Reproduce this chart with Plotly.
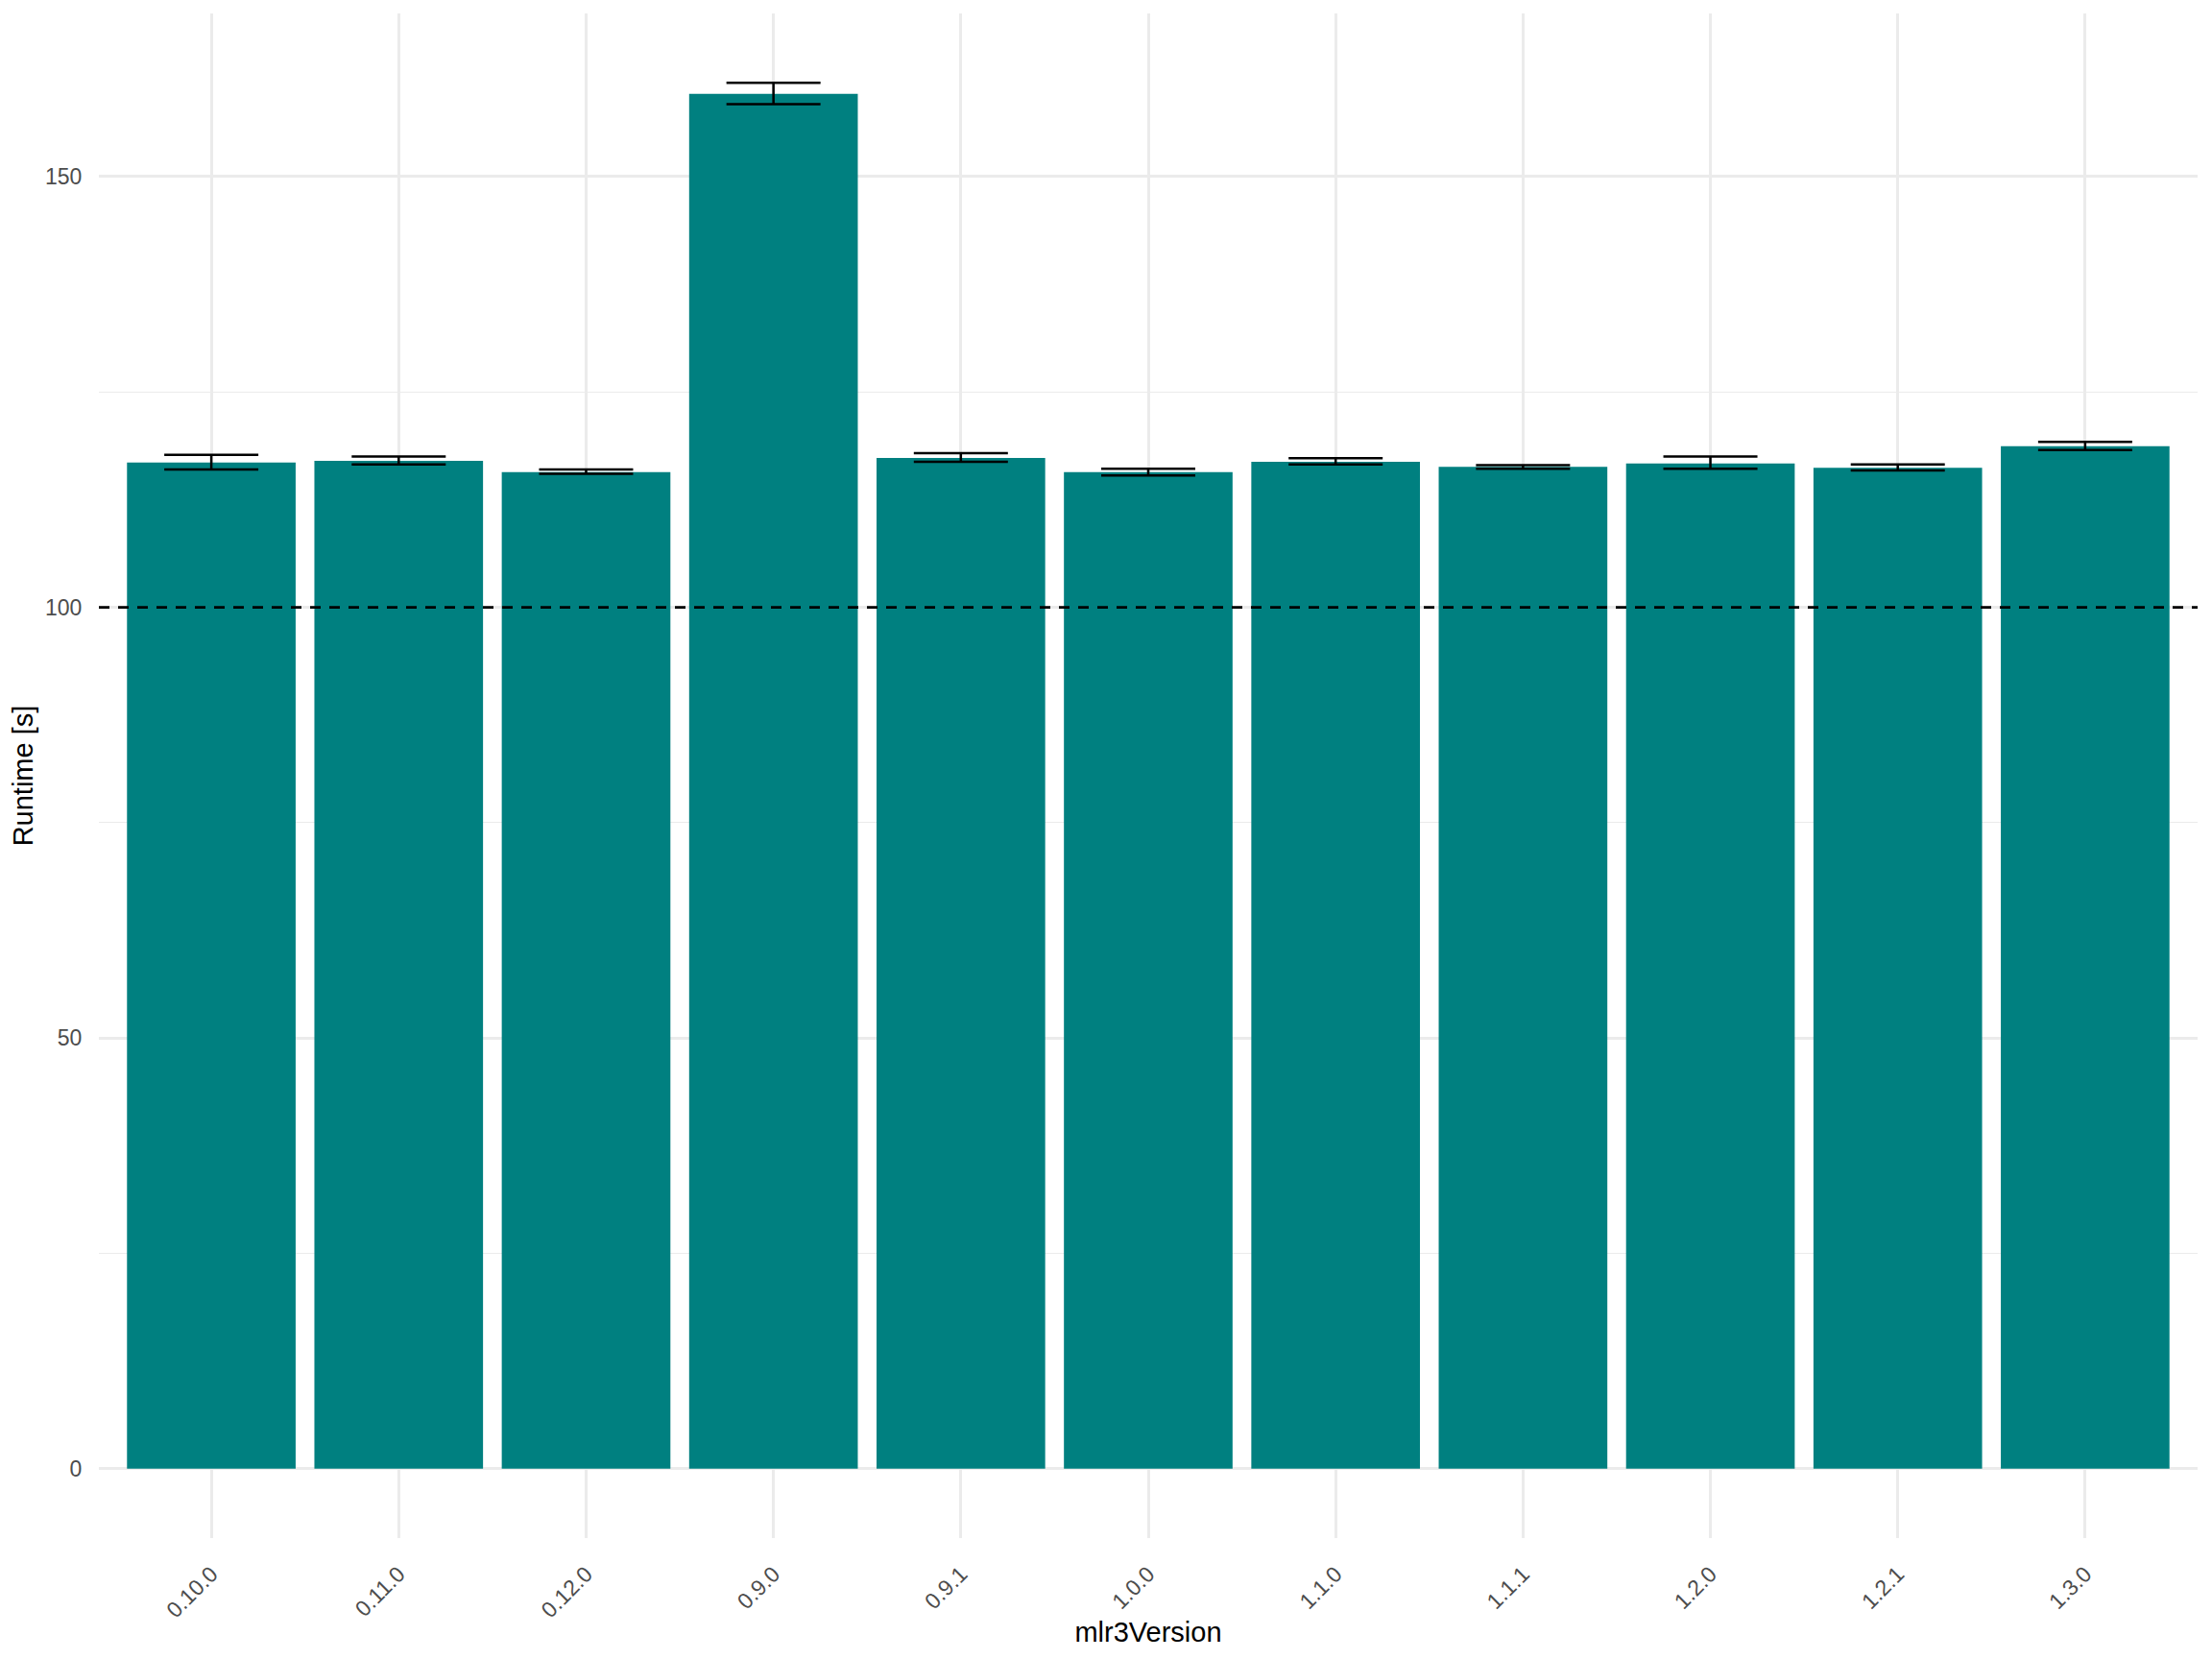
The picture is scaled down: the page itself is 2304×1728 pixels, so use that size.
import plotly.graph_objects as go

versions = ["0.10.0", "0.11.0", "0.12.0", "0.9.0", "0.9.1", "1.0.0",
            "1.1.0", "1.1.1", "1.2.0", "1.2.1", "1.3.0"]
runtime = [116.8, 117.0, 115.7, 159.6, 117.35, 115.7, 116.9, 116.3, 116.7, 116.2, 118.7]
err_upper = [117.7, 117.5, 116.0, 160.9, 117.9, 116.1, 117.3, 116.5, 117.5, 116.6, 119.2]
err_lower = [116.0, 116.6, 115.5, 158.4, 116.9, 115.3, 116.6, 116.1, 116.1, 115.9, 118.25]
reference_line = 100

plus = [u - r for u, r in zip(err_upper, runtime)]
minus = [r - l for l, r in zip(err_lower, runtime)]

FONT = "Liberation Sans"

fig = go.Figure()
fig.add_trace(go.Bar(
    x=versions, y=runtime,
    marker=dict(color="#008080", line=dict(width=0)),
    error_y=dict(type="data", symmetric=False, array=plus, arrayminus=minus,
                 color="black", thickness=2.5, width=49),
    showlegend=False,
))

fig.add_shape(type="line", xref="paper", yref="y", x0=0, x1=1,
              y0=reference_line, y1=reference_line,
              line=dict(color="black", width=2.8, dash="11px,9px"), layer="above")

ymax = max(err_upper)
fig.update_layout(
    width=2296, height=1720,
    paper_bgcolor="white", plot_bgcolor="white",
    margin=dict(l=95, r=15, t=6, b=126, autoexpand=False),
    bargap=0.1,
    font=dict(family=FONT),
    xaxis=dict(
        type="category", categoryorder="array", categoryarray=versions,
        range=[-0.6, 10.6],
        showgrid=True, gridcolor="#EBEBEB", gridwidth=2.5,
        zeroline=False, showline=False,
        ticks="outside", ticklen=14, tickcolor="rgba(0,0,0,0)",
        tickangle=-45,
        tickfont=dict(family=FONT, size=23, color="#4D4D4D"),
        title=dict(text="mlr3Version", font=dict(family=FONT, size=29, color="black"),
                   standoff=0),
        automargin=False,
    ),
    yaxis=dict(
        range=[-0.05 * ymax, ymax * 1.05],
        tickmode="array", tickvals=[0, 50, 100, 150],
        showgrid=True, gridcolor="#EBEBEB", gridwidth=2.5,
        minor=dict(tickvals=[25, 75, 125], showgrid=True, gridcolor="#EBEBEB", gridwidth=1.3),
        zeroline=False, showline=False,
        ticks="outside", ticklen=12, tickcolor="rgba(0,0,0,0)",
        tickfont=dict(family=FONT, size=23, color="#4D4D4D"),
        title=dict(text="Runtime [s]", font=dict(family=FONT, size=29, color="black"),
                   standoff=3),
        automargin=False,
    ),
)

fig.write_html("out.html")
